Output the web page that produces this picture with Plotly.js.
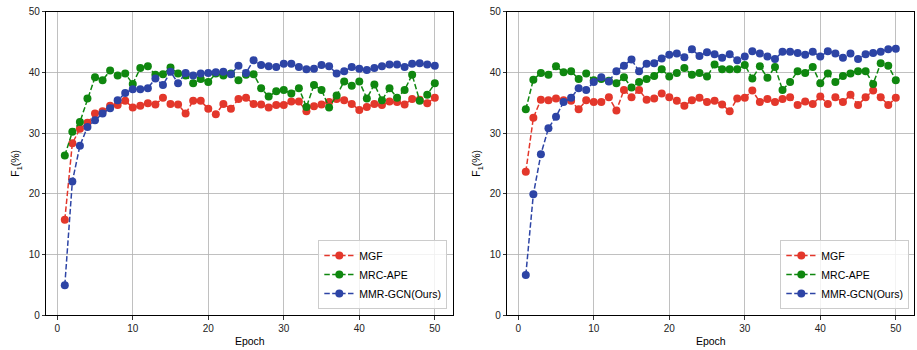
<!DOCTYPE html>
<html>
<head>
<meta charset="utf-8">
<script src="https://cdn.plot.ly/plotly-3.0.1.min.js"></script>
<style>html,body{margin:0;padding:0;background:#fff;}#chart{width:917px;height:350px;}</style>
</head>
<body>
<div id="chart"></div>
<script>
var epochs = [];
for (var i = 1; i <= 50; i++) epochs.push(i);

var seriesNames = ["MGF", "MRC-APE", "MMR-GCN(Ours)"];
var seriesColors = ["#e3372b", "#0f870f", "#2d44a5"];

// Left panel
var leftMGF = [15.7,28.3,30.7,31.7,33.2,33.6,34.5,34.6,35.3,34.2,34.5,34.9,34.7,35.8,34.8,34.7,33.2,35.3,35.3,34.0,33.1,34.8,34.0,35.6,35.8,34.8,34.7,34.2,34.6,34.6,35.2,35.2,33.6,34.4,34.7,35.1,35.6,35.4,34.8,33.8,34.3,34.8,34.6,35.2,35.1,34.7,35.6,35.5,34.9,35.8];
var leftMRC = [26.3,30.2,31.8,35.7,39.2,38.7,40.3,39.5,39.8,38.1,40.7,41.0,39.6,39.7,40.8,39.8,39.5,38.2,38.9,38.4,39.8,39.5,39.8,38.7,39.6,39.7,37.4,36.0,36.9,37.1,36.5,37.4,34.3,37.9,37.1,34.2,36.2,38.5,37.8,38.5,35.7,38.0,35.4,37.4,35.8,37.1,39.6,35.3,36.3,38.2];
var leftMMR = [4.9,22.0,27.9,31.0,32.1,33.2,34.1,35.4,36.6,37.2,37.2,37.4,39.0,37.9,40.1,38.2,39.9,39.5,39.8,39.9,40.0,40.1,39.7,41.1,39.9,42.0,41.2,41.0,40.9,41.4,41.4,40.9,40.5,40.6,41.2,41.0,39.8,40.2,40.9,40.6,40.4,40.7,41.0,41.3,41.3,40.9,41.4,41.5,41.3,41.1];

// Right panel
var rightMGF = [23.6,32.5,35.5,35.4,35.7,35.4,35.3,33.9,35.4,35.1,35.1,35.9,33.7,37.1,35.9,37.1,35.5,35.7,36.5,35.9,35.3,34.5,35.4,35.8,35.1,35.3,34.7,33.6,35.7,35.8,37.0,35.1,35.6,35.1,35.6,35.9,34.6,35.2,34.8,36.0,34.8,35.9,35.1,36.3,34.6,35.9,37.0,35.9,34.6,35.8];
var rightMRC = [33.9,38.8,39.9,39.6,41.0,40.0,40.2,38.9,39.8,38.7,38.9,38.6,38.2,39.2,37.5,38.4,38.9,39.4,40.5,39.3,39.9,40.7,39.6,39.9,39.3,41.3,40.5,40.5,40.5,41.2,39.0,41.0,39.1,40.9,37.1,38.4,40.2,39.9,40.9,38.2,39.8,38.4,39.4,39.8,40.2,40.2,38.1,41.5,41.1,38.7];
var rightMMR = [6.6,19.9,26.5,30.8,32.7,35.1,35.8,37.4,37.1,38.4,39.2,38.5,40.2,41.1,42.1,40.2,41.4,41.5,42.3,42.9,43.1,42.5,43.8,42.7,43.3,43.0,42.4,43.0,42.0,42.6,43.5,43.1,42.6,42.2,43.4,43.4,43.2,42.9,43.4,42.6,43.5,43.1,42.4,43.1,42.2,43.0,43.2,43.4,43.8,43.9];

var xTickVals = [0,10,20,30,40,50];
var yTickVals = [0,10,20,30,40,50];

function mk(y, idx, xa, ya, leg) {
  return {
    x: epochs, y: y, type: "scatter", mode: "lines+markers",
    name: seriesNames[idx], xaxis: xa, yaxis: ya, legend: leg,
    line: {color: seriesColors[idx], width: 1.5, dash: "5.5px,2.4px"},
    marker: {color: seriesColors[idx], size: 8, symbol: "circle", line: {width: 0}}
  };
}

var traces = [
  mk(leftMGF, 0, "x", "y", "legend"),
  mk(leftMRC, 1, "x", "y", "legend"),
  mk(leftMMR, 2, "x", "y", "legend"),
  mk(rightMGF, 0, "x2", "y2", "legend2"),
  mk(rightMRC, 1, "x2", "y2", "legend2"),
  mk(rightMMR, 2, "x2", "y2", "legend2")
];

var fontFam = "Liberation Sans, Arial, sans-serif";

function xAxis(dom, anchor) {
  return {
    domain: dom, anchor: anchor, range: [-1.45, 52.45],
    tickvals: xTickVals, ticks: "outside", ticklen: 3.5, tickwidth: 0.8, tickcolor: "#000",
    showline: true, mirror: true, linecolor: "#000", linewidth: 1,
    showgrid: true, gridcolor: "#b0b0b0", gridwidth: 0.8, zeroline: false,
    tickfont: {size: 10, color: "#222", family: fontFam},
    title: {text: "Epoch", font: {size: 10.5, color: "#000", family: fontFam}, standoff: 5},
    automargin: false
  };
}
function yAxis(dom, anchor) {
  return {
    domain: dom, anchor: anchor, range: [0, 50],
    tickvals: yTickVals, ticks: "outside", ticklen: 3.5, tickwidth: 0.8, tickcolor: "#000",
    showline: true, mirror: true, linecolor: "#000", linewidth: 1,
    showgrid: true, gridcolor: "#b0b0b0", gridwidth: 0.8, zeroline: false,
    tickfont: {size: 10, color: "#222", family: fontFam},
    title: {text: "F<sub>1</sub>(%)", font: {size: 10.5, color: "#000", family: fontFam}, standoff: 6},
    automargin: false
  };
}

var legendStyle = function(xr) {
  return {
    x: xr, y: 0.1171, xanchor: "right", yanchor: "bottom", xref: "paper", yref: "paper",
    bgcolor: "rgba(255,255,255,0.8)", bordercolor: "#cccccc", borderwidth: 1,
    font: {size: 10.5, color: "#000", family: fontFam}, tracegroupgap: 0, itemwidth: 30
  };
};

var layout = {
  width: 917, height: 350,
  margin: {l: 0, r: 0, t: 0, b: 0},
  paper_bgcolor: "#fff", plot_bgcolor: "#fff",
  showlegend: true,
  xaxis: xAxis([46.3/917, 453.3/917], "y"),
  yaxis: yAxis([1 - 315/350, 1 - 11.7/350], "x"),
  xaxis2: xAxis([507.3/917, 914.3/917], "y2"),
  yaxis2: yAxis([1 - 315/350, 1 - 11.7/350], "x2"),
  legend: legendStyle(447.3/917),
  legend2: legendStyle(909.3/917),
  font: {family: fontFam}
};

Plotly.newPlot("chart", traces, layout, {staticPlot: true, displayModeBar: false});
</script>
</body>
</html>
